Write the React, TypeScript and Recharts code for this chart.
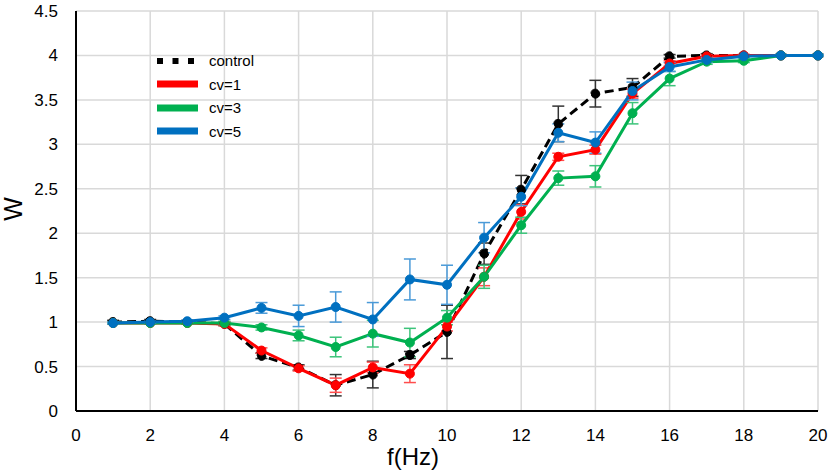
import { LineChart, Line, XAxis, YAxis, CartesianGrid, ErrorBar, Legend } from 'recharts';

const freq = [1, 2, 3, 4, 5, 6, 7, 8, 9, 10, 11, 12, 13, 14, 15, 16, 17, 18, 19, 20];

const control = [1.0, 1.01, 1.0, 0.98, 0.62, 0.49, 0.29, 0.41, 0.63, 0.89, 1.77, 2.49, 3.23, 3.57, 3.64, 3.99, 4.0, 4.0, 4.0, 4.0];
const controlErr = [0.02, 0.02, 0.02, 0.02, 0.03, 0.03, 0.12, 0.15, 0.04, 0.3, 0.12, 0.16, 0.2, 0.15, 0.1, 0.02, 0.02, 0.01, 0.01, 0.01];

const cv1 = [0.99, 0.99, 0.99, 0.98, 0.68, 0.48, 0.29, 0.49, 0.42, 0.95, 1.51, 2.24, 2.86, 2.94, 3.57, 3.91, 3.99, 4.0, 4.0, 4.0];
const cv1Err = [0.01, 0.01, 0.01, 0.02, 0.03, 0.03, 0.08, 0.06, 0.1, 0.05, 0.1, 0.08, 0.04, 0.05, 0.05, 0.03, 0.02, 0.01, 0.01, 0.01];

const cv3 = [0.99, 0.99, 0.99, 0.99, 0.94, 0.85, 0.72, 0.87, 0.77, 1.05, 1.51, 2.09, 2.62, 2.64, 3.35, 3.74, 3.93, 3.94, 4.0, 4.0];
const cv3Err = [0.01, 0.01, 0.01, 0.02, 0.03, 0.06, 0.11, 0.15, 0.16, 0.08, 0.13, 0.09, 0.08, 0.12, 0.12, 0.08, 0.03, 0.02, 0.01, 0.01];

const cv5 = [0.99, 1.0, 1.01, 1.05, 1.16, 1.07, 1.17, 1.03, 1.48, 1.42, 1.95, 2.41, 3.13, 3.02, 3.6, 3.87, 3.95, 3.99, 4.0, 4.0];
const cv5Err = [0.01, 0.01, 0.01, 0.02, 0.06, 0.12, 0.17, 0.19, 0.23, 0.22, 0.17, 0.1, 0.1, 0.12, 0.1, 0.05, 0.03, 0.01, 0.01, 0.01];

const xTicks = [0, 2, 4, 6, 8, 10, 12, 14, 16, 18, 20];
const yTicks = [0, 0.5, 1, 1.5, 2, 2.5, 3, 3.5, 4, 4.5];

const FONT = '"Liberation Sans", Arial, sans-serif';

const data = freq.map((f, i) => ({
  f,
  control: control[i],
  controlErr: controlErr[i],
  cv1: cv1[i],
  cv1Err: cv1Err[i],
  cv3: cv3[i],
  cv3Err: cv3Err[i],
  cv5: cv5[i],
  cv5Err: cv5Err[i],
}));

const legendItems = [
  { label: 'control', color: '#000000', dashed: true },
  { label: 'cv=1', color: '#ff0000', dashed: false },
  { label: 'cv=3', color: '#00b050', dashed: false },
  { label: 'cv=5', color: '#0070c0', dashed: false },
];

function LegendBox() {
  return (
    <div style={{ fontFamily: FONT, fontSize: 15, color: '#000' }}>
      {legendItems.map((item) => (
        <div key={item.label} style={{ display: 'flex', alignItems: 'center', height: 23.5 }}>
          <svg width={41} height={8} style={{ display: 'block' }}>
            {item.dashed ? (
              <line x1={0} y1={4} x2={41} y2={4} stroke={item.color} strokeWidth={6} strokeDasharray="6 9.5" />
            ) : (
              <line x1={0} y1={4} x2={41} y2={4} stroke={item.color} strokeWidth={7} />
            )}
          </svg>
          <span style={{ marginLeft: 11 }}>{item.label}</span>
        </div>
      ))}
    </div>
  );
}

export default function App() {
  return (
    <div style={{ position: 'absolute', left: 0, top: 0, width: 829, height: 476, background: '#fff' }}>
      <LineChart width={829} height={476} data={data} margin={{ top: 11, right: 11, bottom: 0, left: 0 }}>
        <CartesianGrid stroke="#d9d9d9" strokeWidth={1.5} />
        <XAxis
          dataKey="f"
          type="number"
          domain={[0, 20]}
          ticks={xTicks}
          height={65}
          tickLine={false}
          tickMargin={12}
          axisLine={{ stroke: '#000', strokeWidth: 2 }}
          tick={{ fill: '#000', fontSize: 17, fontFamily: FONT }}
          label={{
            content: () => (
              <text x={413} y={465} textAnchor="middle" fontSize={24} fontFamily={FONT} fill="#000">
                f(Hz)
              </text>
            ),
          }}
        />
        <YAxis
          type="number"
          domain={[0, 4.5]}
          ticks={yTicks}
          width={76}
          tickLine={false}
          tickMargin={12}
          axisLine={{ stroke: '#000', strokeWidth: 2 }}
          tick={{ fill: '#000', fontSize: 17, fontFamily: FONT }}
          label={{
            content: () => (
              <text
                x={13}
                y={209}
                transform="rotate(-90 13 209)"
                textAnchor="middle"
                dy="0.36em"
                fontSize={25}
                fontFamily={FONT}
                fill="#000"
              >
                W
              </text>
            ),
          }}
        />
        <Legend
          layout="vertical"
          align="center"
          verticalAlign="middle"
          content={() => <LegendBox />}
          wrapperStyle={{ left: 157, top: 49, width: 'auto', height: 'auto' }}
        />
        <Line
          dataKey="control"
          stroke="#000000"
          strokeWidth={3}
          strokeDasharray="9 5"
          dot={{ r: 4.5, fill: '#000000', stroke: '#000000', strokeWidth: 1 }}
          activeDot={false}
          isAnimationActive={false}
        >
          <ErrorBar dataKey="controlErr" direction="y" width={6} stroke="#333333" strokeWidth={1.5} isAnimationActive={false} />
        </Line>
        <Line
          dataKey="cv1"
          stroke="#ff0000"
          strokeWidth={3}
          dot={{ r: 4.5, fill: '#ff0000', stroke: '#ff0000', strokeWidth: 1 }}
          activeDot={false}
          isAnimationActive={false}
        >
          <ErrorBar dataKey="cv1Err" direction="y" width={6} stroke="#ff4d4d" strokeWidth={1.5} isAnimationActive={false} />
        </Line>
        <Line
          dataKey="cv3"
          stroke="#00b050"
          strokeWidth={3}
          dot={{ r: 4.5, fill: '#00b050', stroke: '#00b050', strokeWidth: 1 }}
          activeDot={false}
          isAnimationActive={false}
        >
          <ErrorBar dataKey="cv3Err" direction="y" width={6} stroke="#3cc47a" strokeWidth={1.5} isAnimationActive={false} />
        </Line>
        <Line
          dataKey="cv5"
          stroke="#0070c0"
          strokeWidth={3}
          dot={{ r: 4.5, fill: '#0070c0', stroke: '#0070c0', strokeWidth: 1 }}
          activeDot={false}
          isAnimationActive={false}
        >
          <ErrorBar dataKey="cv5Err" direction="y" width={6} stroke="#4a9ad8" strokeWidth={1.5} isAnimationActive={false} />
        </Line>
      </LineChart>
    </div>
  );
}
